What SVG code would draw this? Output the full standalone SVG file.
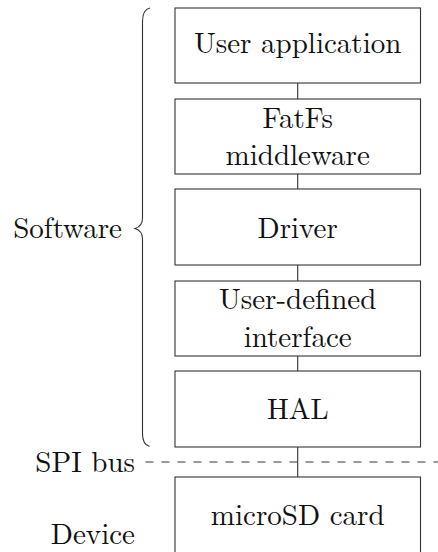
<svg xmlns="http://www.w3.org/2000/svg" width="438" height="552" viewBox="0 0 438 552">
<style>
  .box { fill: #ffffff; stroke: #333333; stroke-width: 1.1; }
  text { font-family: 'Latin Modern Roman', 'CMU Serif', 'Liberation Serif', 'Times New Roman', Tinos, 'Noto Serif', 'Nimbus Roman', FreeSerif, 'DejaVu Serif', serif; font-size: 29px; fill: #111111; }
  .c { text-anchor: middle; }
  .r { text-anchor: end; }
  .ln { stroke: #333333; stroke-width: 1.1; fill: none; }
</style>
<rect width="438" height="552" fill="#ffffff"/>
<g id="connectors">
  <line class="ln" x1="297.7" y1="83" x2="297.7" y2="99"/>
  <line class="ln" x1="297.7" y1="174" x2="297.7" y2="189"/>
  <line class="ln" x1="297.7" y1="265" x2="297.7" y2="281"/>
  <line class="ln" x1="297.7" y1="356" x2="297.7" y2="371"/>
  <line class="ln" x1="297.7" y1="447" x2="297.7" y2="477"/>
  <line id="spi-bus-line" class="ln" x1="145.5" y1="462" x2="438" y2="462" stroke-dasharray="8 8" stroke="#555555"/>
  <path id="brace" class="ln" d="M150,8 C145,9 142.5,13 142.5,22 L142.5,218 C142.5,224 140,227 135,228.5 C140,230 142.5,233 142.5,239 L142.5,434 C142.5,441 145,445 149.5,446.5"/>
</g>
<g id="user-application">
  <rect class="box" x="175" y="8" width="245.5" height="75"/>
  <text class="c" x="297.7" y="53">User application</text>
</g>
<g id="fatfs">
  <rect class="box" x="175" y="99" width="245.5" height="75"/>
  <text class="c" x="297.7" y="128">FatFs</text>
  <text class="c" x="297.7" y="165">middleware</text>
</g>
<g id="driver">
  <rect class="box" x="175" y="189" width="245.5" height="76"/>
  <text class="c" x="297.7" y="238">Driver</text>
</g>
<g id="user-defined-interface">
  <rect class="box" x="175" y="281" width="245.5" height="75"/>
  <text class="c" x="297.7" y="309">User-defined</text>
  <text class="c" x="297.7" y="347">interface</text>
</g>
<g id="hal">
  <rect class="box" x="175" y="371" width="245.5" height="76"/>
  <text class="c" x="297.7" y="419">HAL</text>
</g>
<g id="microsd-card">
  <rect class="box" x="175" y="477" width="245.5" height="100"/>
  <text class="c" x="297.7" y="525">microSD card</text>
</g>
<g id="labels">
  <text class="r" x="122" y="238">Software</text>
  <text class="r" x="135" y="472">SPI bus</text>
  <text class="r" x="135" y="544">Device</text>
</g>
</svg>
